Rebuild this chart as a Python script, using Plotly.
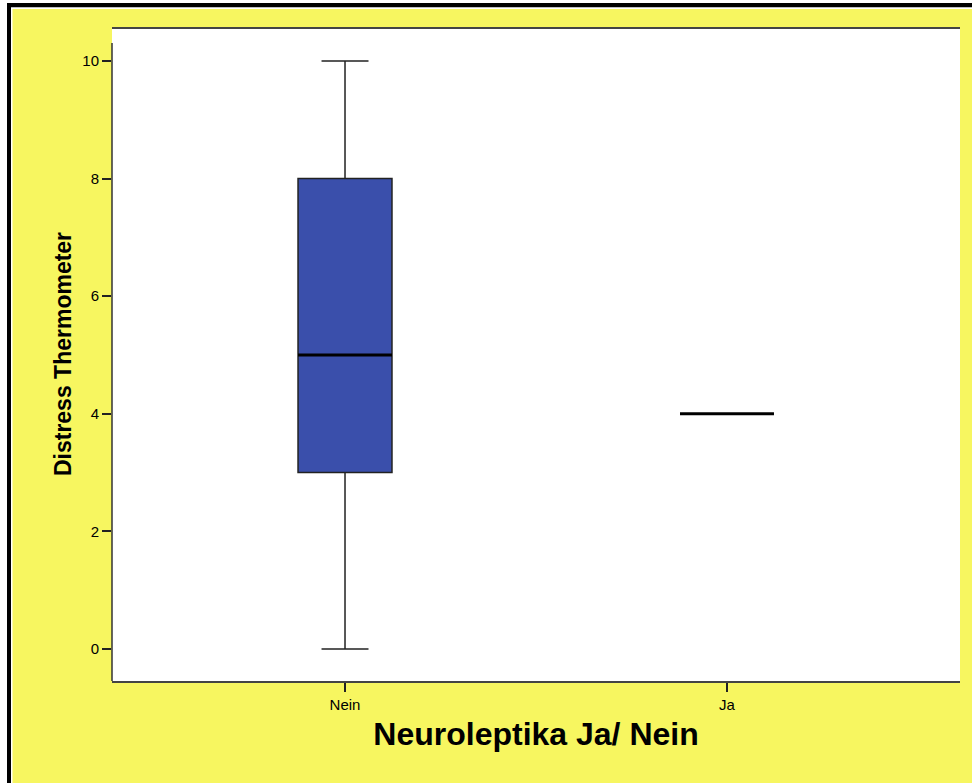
import plotly.graph_objects as go

# Distress Thermometer scores by neuroleptic use
groups = ["Nein", "Ja"]
positions = [0, 1]
lower_whisker = [0, 4]
q1_vals = [3, 4]
median_vals = [5, 4]
q3_vals = [8, 4]
upper_whisker = [10, 4]

y_ticks = [0, 2, 4, 6, 8, 10]

W, H = 972, 783
L, R, T, B = 112, 960, 27, 681  # plot area in pixels
BOX_W = 0.246

YELLOW = "#f7f660"
BLUE = "#3a4fab"
FONT = "Arial, Liberation Sans, sans-serif"


def px(x):
    return (x - L) / (R - L)


def py(y):
    return 1 - (y - T) / (B - T)


fig = go.Figure()

fig.add_trace(go.Box(
    x=positions,
    q1=q1_vals,
    median=median_vals,
    q3=q3_vals,
    lowerfence=lower_whisker,
    upperfence=upper_whisker,
    width=BOX_W,
    whiskerwidth=0.5,
    fillcolor=BLUE,
    line=dict(color="#222222", width=1.5),
    boxpoints=False,
    showlegend=False,
))

# heavier median bars
for xp, med in zip(positions, median_vals):
    fig.add_trace(go.Scatter(
        x=[xp - BOX_W / 2, xp + BOX_W / 2],
        y=[med, med],
        mode="lines",
        line=dict(color="black", width=3),
        showlegend=False,
        hoverinfo="skip",
    ))

shapes = [
    # outer white margin, black frame and thin white inner rim
    dict(type="rect", xref="paper", yref="paper", x0=px(-5), x1=px(W + 5),
         y0=py(H + 5), y1=py(3), fillcolor="black", line_width=0, layer="below"),
    dict(type="rect", xref="paper", yref="paper", x0=px(11), x1=px(W + 5),
         y0=py(H + 5), y1=py(7.3), fillcolor="white", line_width=0, layer="below"),
    dict(type="rect", xref="paper", yref="paper", x0=px(-5), x1=px(7),
         y0=py(H + 5), y1=py(-5), fillcolor="white", line_width=0, layer="below"),
    dict(type="rect", xref="paper", yref="paper", x0=px(-5), x1=px(W + 5),
         y0=py(3), y1=py(-5), fillcolor="white", line_width=0, layer="below"),
    dict(type="rect", xref="paper", yref="paper", x0=px(12.5), x1=px(W + 5),
         y0=py(H + 5), y1=py(9), fillcolor=YELLOW, line_width=0, layer="below"),
    # white plotting panel
    dict(type="rect", xref="paper", yref="paper", x0=0, x1=1, y0=0, y1=1,
         fillcolor="white", line_width=0, layer="below"),
    # plot frame: top rule and left axis line
    dict(type="line", xref="paper", yref="paper", x0=0, x1=1, y0=py(28), y1=py(28),
         line=dict(color="#444444", width=2)),
    dict(type="line", xref="paper", yref="paper", x0=0, x1=0, y0=py(43), y1=0,
         line=dict(color="#333333", width=1.5)),
]

fig.update_layout(
    width=W, height=H,
    margin=dict(l=L, r=W - R, t=T, b=H - B),
    paper_bgcolor=YELLOW,
    plot_bgcolor="white",
    font=dict(family=FONT, color="black"),
    shapes=shapes,
    xaxis=dict(
        range=[-0.61, 1.61],
        tickvals=positions,
        ticktext=groups,
        ticks="outside", ticklen=9, tickwidth=1.5, tickcolor="#222222",
        tickfont=dict(size=15, family=FONT),
        showline=True, linecolor="#444444", linewidth=2,
        showgrid=False, zeroline=False,
        title=dict(text="<b>Neuroleptika Ja/ Nein</b>",
                   font=dict(size=32, family=FONT), standoff=11),
    ),
    yaxis=dict(
        range=[-0.544, 10.578],
        tickvals=y_ticks,
        ticks="outside", ticklen=9, tickwidth=1.5, tickcolor="#222222",
        tickfont=dict(size=15, family=FONT),
        showline=False,
        showgrid=False, zeroline=False,
        title=dict(text="<b>Distress Thermometer</b>",
                   font=dict(size=23, family=FONT), standoff=4),
    ),
)

fig.write_html("out.html")
